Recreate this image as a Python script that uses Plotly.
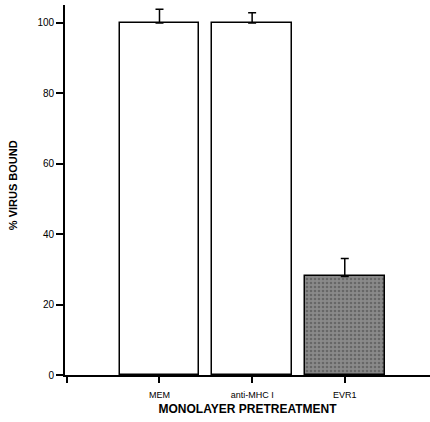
import plotly.graph_objects as go

categories = ["MEM", "anti-MHC I", "EVR1"]
positions = [1, 2, 3]
values = [100, 100, 28]
errors_up = [3.9, 2.9, 5.1]
y_ticks = [0, 20, 40, 60, 80, 100]

fig = go.Figure()
fig.add_trace(go.Bar(
    x=positions,
    y=values,
    width=0.86,
    marker=dict(
        color=["white", "white", "#8a8a8a"],
        line=dict(color="black", width=1.5),
        pattern=dict(shape=["", "", "."], fgcolor="#c8c8c8", size=4, solidity=0.35),
    ),
    error_y=dict(type="data", symmetric=False, array=errors_up, arrayminus=[0, 0, 0],
                 color="black", thickness=1.5, width=4),
    showlegend=False,
))

fig.update_layout(
    width=430, height=422,
    margin=dict(l=65, r=0, t=5, b=47),
    paper_bgcolor="white", plot_bgcolor="white",
    font=dict(family="Liberation Sans, Arial, sans-serif", color="black"),
    bargap=0,
    annotations=[dict(
        text="<b>% VIRUS BOUND</b>", textangle=-90,
        xref="paper", yref="paper", x=-0.1425, y=0.513,
        xanchor="center", yanchor="middle", showarrow=False,
        font=dict(size=11),
    )],
)
fig.update_xaxes(
    range=[-0.02, 3.92],
    tickvals=[0] + positions, ticktext=[""] + categories,
    ticks="outside", ticklen=6, tickwidth=1.5, tickcolor="black",
    showline=True, linecolor="black", linewidth=2,
    showgrid=False, zeroline=False,
    tickfont=dict(size=9), ticklabelstandoff=4,
    title=dict(text="<b>MONOLAYER PRETREATMENT</b>", font=dict(size=12), standoff=6),
)
fig.update_yaxes(
    range=[0, 105.1],
    tickvals=y_ticks,
    ticks="outside", ticklen=7, tickwidth=1.5, tickcolor="black",
    showline=True, linecolor="black", linewidth=1.8,
    showgrid=False, zeroline=False,
    tickfont=dict(size=10),
)

fig.write_html("out.html")
